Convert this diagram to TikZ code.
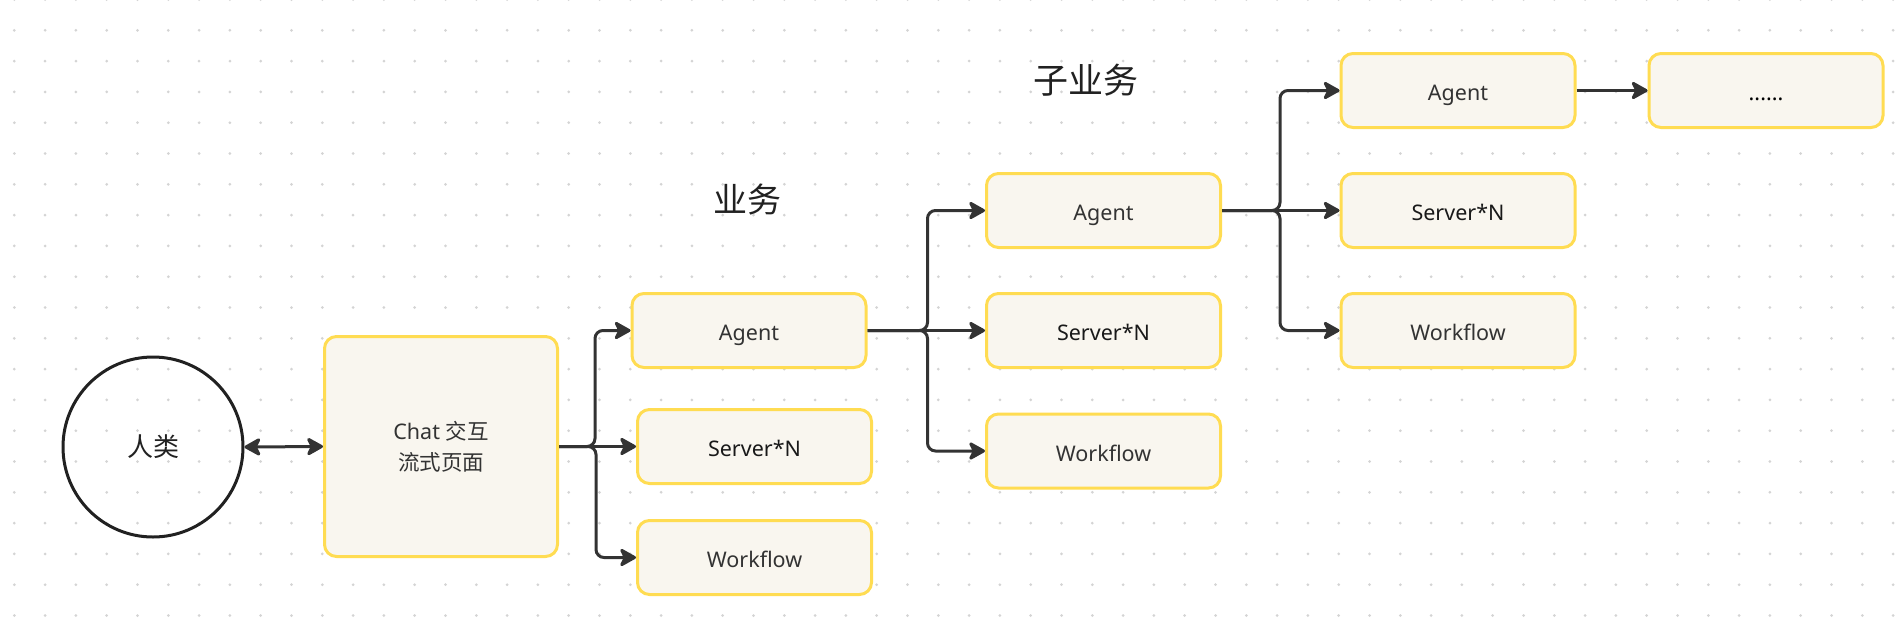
\documentclass[tikz,border=0pt]{standalone}
\usepackage{fontspec}
\setmainfont{Noto Sans}
\newfontfamily\cjk{Noto Sans CJK SC}
\usetikzlibrary{arrows.meta}
\definecolor{boxfill}{HTML}{F9F6EF}
\definecolor{boxline}{HTML}{FFDC52}
\definecolor{lineC}{HTML}{333333}
\definecolor{dotC}{HTML}{D4D4D4}
\definecolor{txtC}{HTML}{333333}
\begin{document}
\begin{tikzpicture}[x=1pt,y=-1pt,
  boxbase/.style={draw=boxline, line width=3pt, fill=boxfill, rounded corners=12pt,
    inner sep=0pt, text=txtC, font=\fontsize{21.5}{31}\selectfont},
  card/.style={boxbase, minimum width=234pt, minimum height=74pt,
    text height=25pt, text depth=5pt},
  darktext/.style={text=black!90},
  tip/.tip={Stealth[length=19pt,width=21pt,inset=5pt,round]},
  conn/.style={draw=lineC, line width=3pt, rounded corners=8pt, -tip},
  conntwo/.style={draw=lineC, line width=3pt, tip-tip},
  title/.style={font=\cjk\fontsize{34}{40}\selectfont, text=black!87}
 ]
\fill[white] (0,0) rectangle (1904,630);
\useasboundingbox (0,0) rectangle (1904,630);
\foreach \i in {0,...,61}{
  \foreach \j in {0,...,20}{
    \fill[dotC] (14.3+30.8*\i, -0.5+30.8*\j) circle (1.5pt);
  }
}
% nodes
\node[circle, draw=black!87, line width=3pt, minimum size=180pt, inner sep=0pt,
  font=\cjk\fontsize{26}{30}\selectfont, text=black!87] (human) at (153,447) {人类};
\node[boxbase, minimum width=233pt, minimum height=220pt, align=center] (chat) at (441,446.5)
  {Chat {\cjk 交互}\\{\cjk 流式页面}};
\node[title] (t1) at (747,200) {业务};
\node[title, font=\cjk\fontsize{35}{40}\selectfont] (t2) at (1086,80) {子业务};

\node[card] (a1) at (749,330.5) {Agent};
\node[card, darktext] (s1) at (754.5,446.5) {Server*N};
\node[card] (w1) at (754.5,557.5) {Workflow};

\node[card] (a2) at (1103.5,210.5) {Agent};
\node[card, darktext] (s2) at (1103.5,330.5) {Server*N};
\node[card] (w2) at (1103.5,451) {Workflow};

\node[card] (a3) at (1458,90.5) {Agent};
\node[card, darktext] (s3) at (1458,210.5) {Server*N};
\node[card] (w3) at (1458,330.5) {Workflow};

\node[card, text=black] (more) at (1766,90.5) {......};

% connectors
\draw[conntwo] (human.east) -- (chat.west);
\draw[conn] (chat.east) -- ++(36,0) |- (a1.west);
\draw[conn] (chat.east) -- (s1.west);
\draw[conn] (chat.east) -- ++(37,0) |- (w1.west);

\draw[conn] (a1.east) -- ++(60,0) |- (a2.west);
\draw[conn] (a1.east) -- (s2.west);
\draw[conn] (a1.east) -- ++(60,0) |- (w2.west);

\draw[conn] (a2.east) -- ++(58,0) |- (a3.west);
\draw[conn] (a2.east) -- (s3.west);
\draw[conn] (a2.east) -- ++(58,0) |- (w3.west);

\draw[conn] (a3.east) -- (more.west);
\end{tikzpicture}
\end{document}
